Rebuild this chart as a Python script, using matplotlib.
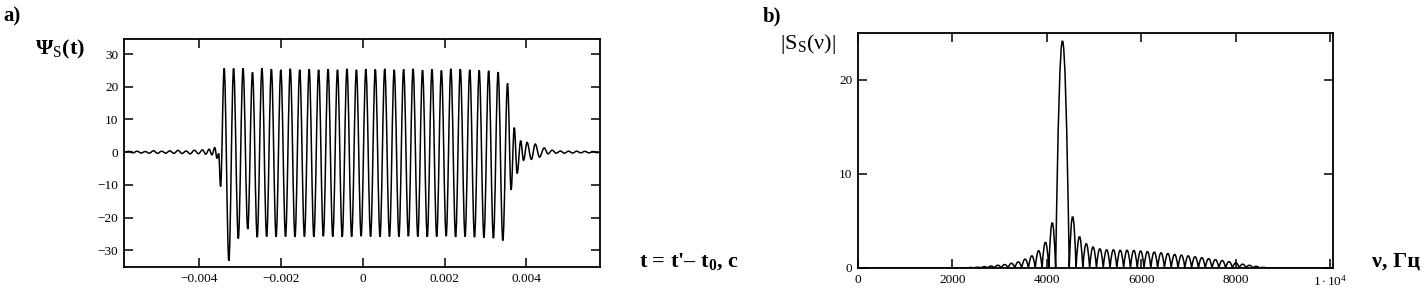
import matplotlib
matplotlib.use("Agg")
import matplotlib.pyplot as plt
from matplotlib.path import Path
from matplotlib.patches import PathPatch

plt.rcParams['font.family'] = ['Liberation Serif', 'DejaVu Serif']
plt.rcParams['mathtext.fontset'] = 'custom'
plt.rcParams['mathtext.rm'] = 'Liberation Serif'
plt.rcParams['mathtext.it'] = 'Liberation Serif:italic'
plt.rcParams['mathtext.bf'] = 'Liberation Serif:bold'

# ---------------- data: panel a) time signal extrema (t in ms) ----------------
pre_t = [-5.84, -5.72, -5.62, -5.52, -5.42, -5.32, -5.22, -5.12, -5.02, -4.92,
         -4.82, -4.72, -4.62, -4.52, -4.42, -4.32, -4.22, -4.12, -4.02, -3.92,
         -3.84, -3.76, -3.69, -3.62, -3.565, -3.525, -3.478]
pre_v = [0.0, 0.25, -0.2, 0.3, -0.25, 0.2, -0.3, 0.45, -0.35, 0.3,
         -0.3, 0.4, -0.35, 0.55, -0.4, 0.35, -0.5, 0.6, -0.45, 0.7,
         -0.6, 0.9, -0.8, 1.4, -1.9, -0.4, -10.5]

peak_t = [-3.391, -3.160, -2.929, -2.698, -2.467, -2.236, -2.005, -1.774, -1.543, -1.312,
          -1.081, -0.850, -0.619, -0.388, -0.157, 0.074, 0.305, 0.536, 0.767, 0.998,
          1.229, 1.460, 1.691, 1.922, 2.153, 2.384, 2.615, 2.846, 3.077, 3.308, 3.539]
peak_v = [25.6, 25.6, 25.6, 24.4, 25.7, 25.4, 25.2, 25.5, 25.2, 25.4,
          25.2, 25.4, 25.2, 25.5, 25.2, 25.4, 25.3, 25.5, 25.2, 25.3,
          25.5, 25.1, 25.3, 25.0, 25.5, 25.4, 25.2, 25.0, 24.9, 24.5, 21.0]

trough_t = [-3.276, -3.045, -2.814, -2.583, -2.352, -2.121, -1.890, -1.659, -1.428, -1.197,
            -0.966, -0.735, -0.504, -0.273, -0.042, 0.190, 0.421, 0.652, 0.883, 1.114,
            1.345, 1.576, 1.807, 2.038, 2.269, 2.500, 2.731, 2.962, 3.193, 3.424]
trough_v = [-33.2, -26.4, -23.5, -26.0, -25.8, -25.9, -25.8, -25.9, -25.8, -25.9,
            -25.7, -25.8, -25.9, -25.8, -25.7, -25.8, -25.9, -25.8, -25.8, -25.7,
            -25.8, -25.9, -25.8, -25.7, -25.9, -25.8, -26.0, -26.1, -26.3, -27.0]

post_t = [3.626, 3.704, 3.774, 3.861, 3.930, 4.017, 4.122, 4.217, 4.322, 4.435,
          4.53, 4.63, 4.73, 4.83, 4.93, 5.03, 5.13, 5.23, 5.33, 5.43,
          5.53, 5.63, 5.73, 5.82]
post_v = [-11.5, 7.5, -6.5, 3.5, -2.5, 3.0, -2.2, 2.5, -1.5, 1.3,
          -0.5, 0.6, -0.3, 0.35, -0.3, 0.3, -0.25, 0.3, -0.2, 0.25,
          -0.2, 0.2, -0.15, 0.0]

# ---------------- data: panel b) spectrum lobes (Hz) ----------------
spec_zero_f = [2170, 2314, 2458, 2602, 2746, 2890, 3034, 3178, 3322, 3466,
               3610, 3754, 3898, 4042, 4186, 4474, 4618, 4762, 4906, 5050,
               5194, 5338, 5482, 5626, 5770, 5914, 6058, 6202, 6346, 6490,
               6634, 6778, 6922, 7066, 7210, 7354, 7498, 7642, 7786, 7930,
               8074, 8218, 8362, 8506, 8650]
lobe_f = [2242, 2386, 2530, 2674, 2818, 2962, 3106, 3250, 3394, 3538,
          3682, 3826, 3970, 4114, 4330, 4546, 4690, 4834, 4978, 5122,
          5266, 5410, 5554, 5698, 5842, 5986, 6130, 6274, 6418, 6562,
          6706, 6850, 6994, 7138, 7282, 7426, 7570, 7714, 7858, 8002,
          8146, 8290, 8434, 8578]
lobe_v = [0.03, 0.06, 0.10, 0.15, 0.22, 0.30, 0.38, 0.52, 0.65, 0.95,
          1.30, 1.85, 2.75, 4.85, 24.2, 5.5, 3.35, 2.6, 2.25, 2.05,
          1.95, 1.95, 1.9, 1.9, 1.88, 1.82, 1.75, 1.7, 1.62, 1.55,
          1.45, 1.38, 1.3, 1.2, 1.1, 1.0, 0.9, 0.8, 0.68, 0.55,
          0.42, 0.3, 0.18, 0.08]

left_xticks = [-0.004, -0.002, 0, 0.002, 0.004]
left_xlabels = ['\u22120.004', '\u22120.002', '0', '0.002', '0.004']
left_yticks = [-30, -20, -10, 0, 10, 20, 30]
left_ylabels = ['\u221230', '\u221220', '\u221210', '0', '10', '20', '30']
right_xticks = [0, 2000, 4000, 6000, 8000, 10000]
right_xlabels = ['0', '2000', '4000', '6000', '8000', r'$1\cdot10^{4}$']
right_yticks = [0, 10, 20]
right_ylabels = ['0', '10', '20']

# ---------------- figure ----------------
W, H = 1426, 296
fig = plt.figure(figsize=(W / 100, H / 100), dpi=100)
fig.patch.set_facecolor('white')

axL = fig.add_axes([124 / W, 1 - 267 / H, 476 / W, 228 / H])
axR = fig.add_axes([858 / W, 1 - 268 / H, 475 / W, 235 / H])


def smooth_path(xs, ys, k=0.36):
    verts = [(xs[0], ys[0])]
    codes = [Path.MOVETO]
    for i in range(len(xs) - 1):
        d = xs[i + 1] - xs[i]
        verts += [(xs[i] + k * d, ys[i]), (xs[i + 1] - k * d, ys[i + 1]), (xs[i + 1], ys[i + 1])]
        codes += [Path.CURVE4] * 3
    return Path(verts, codes)


# assemble time series extrema
pts = list(zip(pre_t, pre_v)) + list(zip(peak_t, peak_v)) + list(zip(trough_t, trough_v)) + list(zip(post_t, post_v))
pts.sort(key=lambda p: p[0])
ts = [p[0] * 1e-3 for p in pts]
vs = [p[1] for p in pts]
axL.add_patch(PathPatch(smooth_path(ts, vs), fill=False, edgecolor='black', lw=1.1))

# spectrum path
xmax_r = 10060
verts = [(0, 0), (spec_zero_f[0], 0)]
codes = [Path.MOVETO, Path.LINETO]
for i in range(len(lobe_f)):
    verts += [(lobe_f[i], 2 * lobe_v[i]), (spec_zero_f[i + 1], 0)]
    codes += [Path.CURVE3, Path.CURVE3]
verts.append((xmax_r, 0))
codes.append(Path.LINETO)
axR.add_patch(PathPatch(Path(verts, codes), fill=False, edgecolor='black', lw=1.1))

for ax in (axL, axR):
    for s in ax.spines.values():
        s.set_linewidth(1.3)
        s.set_color('black')
    ax.tick_params(direction='in', length=6.5, width=1.1, top=True, right=True,
                   labelsize=9.5, colors='black')
    ax.tick_params(axis='x', pad=4)
    ax.tick_params(axis='y', pad=4)

axL.set_xlim(-0.00584, 0.0058)
axL.set_ylim(-35.1, 34.6)
axL.set_xticks(left_xticks)
axL.set_xticklabels(left_xlabels)
axL.set_yticks(left_yticks)
axL.set_yticklabels(left_ylabels)

axR.set_xlim(0, xmax_r)
axR.set_ylim(0, 25)
axR.set_xticks(right_xticks)
axR.set_xticklabels(right_xlabels)
axR.set_yticks(right_yticks)
axR.set_yticklabels(right_ylabels)


def ftext(x, y, s, **kw):
    fig.text(x / W, 1 - y / H, s, va='center', ha='left', color='black', **kw)


ftext(3, 16, 'a)', fontsize=15, fontweight='bold')
ftext(763, 16, 'b)', fontsize=15, fontweight='bold')
ftext(35, 49, '\u03a8$_{\\mathrm{S}}$(t)', fontsize=16, fontweight='bold')
ftext(780, 44, '|S$_{\\mathrm{S}}$(\u03bd)|', fontsize=16)
ftext(639, 262, "t = t'\u2013 t$_{\\mathbf{0}}$, c", fontsize=16, fontweight='bold')
ftext(1372, 262, '\u03bd, \u0413\u0446', fontsize=16, fontweight='bold')

fig.savefig('out.png', dpi=100, facecolor='white')
